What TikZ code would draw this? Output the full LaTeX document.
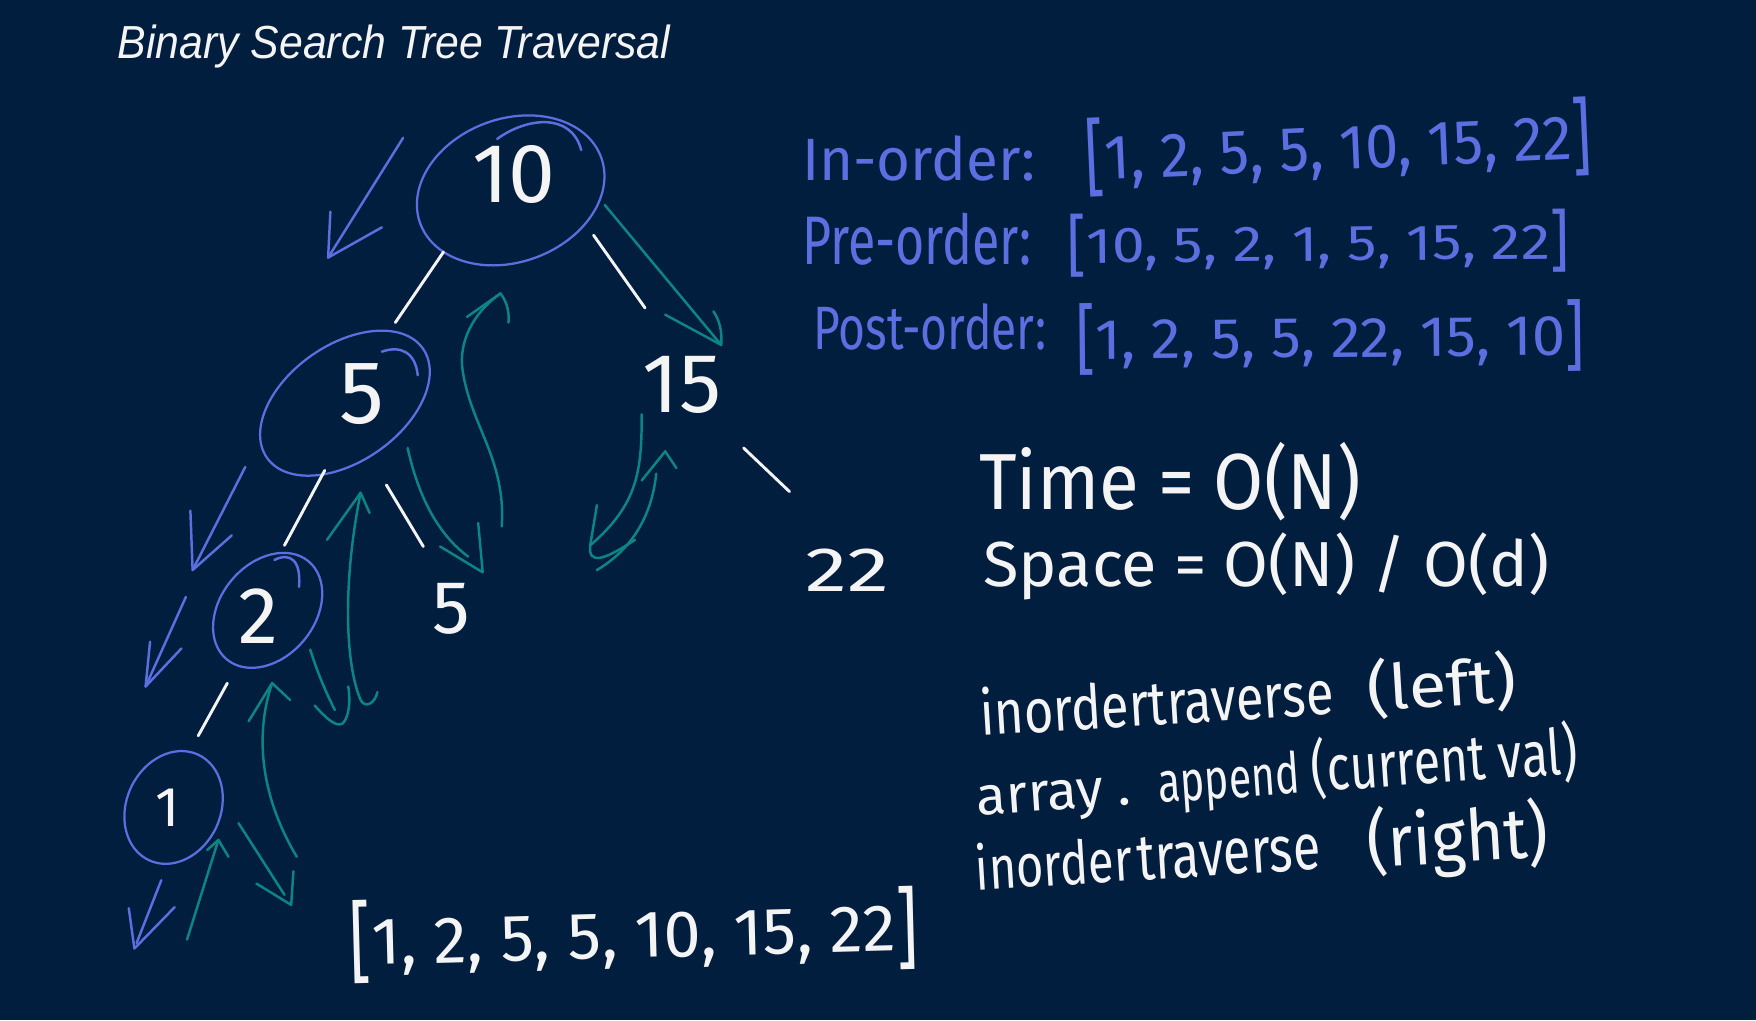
\documentclass[tikz,border=0pt]{standalone}
\usepackage{fontspec}
\usepackage{graphicx}
\usetikzlibrary{shapes.geometric,calc}
\newfontfamily\handf{Fira Sans}
\newfontfamily\titlef{Liberation Sans}
\definecolor{bg}{HTML}{021E3E}
\definecolor{bstroke}{HTML}{5B6FE0}
\definecolor{tstroke}{HTML}{0B8585}
\definecolor{wstroke}{HTML}{F4F4F4}
\newcommand\fitbox[3]{\resizebox{#1pt}{#2pt}{#3}}
\newcommand\tallbr[1]{\raisebox{-0.12em}{\scalebox{1}[1.35]{#1}}}
\begin{document}
\begin{tikzpicture}[x=1pt,y=-1pt,
  tnode/.style={ellipse, draw=bstroke, line width=2pt, inner sep=0pt},
  lbl/.style={text=wstroke, inner sep=0pt},
  edge/.style={draw=wstroke, line width=2.6pt, line cap=round},
  bpen/.style={draw=bstroke, line width=2.2pt, line cap=round, line join=round},
  tpen/.style={draw=tstroke, line width=2.2pt, line cap=round, line join=round},
  btext/.style={text=bstroke, font=\handf, inner sep=0pt, anchor=base west},
  wtext/.style={text=wstroke, font=\handf, inner sep=0pt, anchor=base west}]
\fill[bg] (0,0) rectangle (1568,911);
\useasboundingbox (0,0) rectangle (1568,911);

% title
\node[anchor=base west, text=wstroke, inner sep=0pt, font=\titlef\itshape] (title) at (105,52) {\fitbox{493}{30}{Binary Search Tree Traversal}};

% tree nodes
\node[tnode, minimum width=172pt, minimum height=128pt, rotate=20] (n10) at (456,170) {};
\node[tnode, minimum width=170pt, minimum height=104pt, rotate=35] (n5) at (308,360) {};
\node[tnode, minimum width=114pt, minimum height=84pt, rotate=50] (n2) at (239,545) {};
\node[tnode, minimum width=104pt, minimum height=84pt, rotate=65] (n1) at (155,721) {};

\node[lbl, font=\handf\fontsize{75}{80}\selectfont] (t10) at (459,156) {10};
\node[lbl, font=\handf\fontsize{80}{84}\selectfont] (t5) at (323,352) {5};
\node[lbl, font=\handf\fontsize{72}{76}\selectfont] (t2) at (231,550) {2};
\node[lbl, font=\handf\fontsize{50}{54}\selectfont] (t1) at (150,721) {1};
\node[lbl, font=\handf\fontsize{75}{80}\selectfont] (t15) at (609,344) {15};
\node[lbl, font=\handf\fontsize{67}{70}\selectfont] (t5r) at (403,544) {5};
\node[lbl, font=\handf] (t22) at (757,509) {\fitbox{75}{38}{22}};

% pen-start curls on the circles
\draw[bpen] ($(n10)+(-12,-46)$) .. controls ($(n10)+(14,-65)$) and ($(n10)+(54,-70)$) .. ($(n10)+(63,-36)$);
\draw[bpen] ($(n5)+(33,-46)$) .. controls ($(n5)+(50,-52)$) and ($(n5)+(63,-45)$) .. ($(n5)+(65,-25)$);
\draw[bpen] ($(n2)+(6,-45)$) .. controls ($(n2)+(20,-52)$) and ($(n2)+(30,-45)$) .. ($(n2)+(28,-21)$);

% tree edges
\draw[edge] ($(n10)+(-60,55)$) -- ($(n5)+(45,-72)$);
\draw[edge] ($(n10)+(74,40)$) -- ($(t15)+(-33,-69)$);
\draw[edge] ($(n5)+(-18,60)$) -- ($(n2)+(15,-58)$);
\draw[edge] ($(n5)+(37,73)$) -- ($(t5r)+(-25,-56)$);
\draw[edge] ($(n2)+(-36,65)$) -- ($(n1)+(22,-64)$);
\draw[edge] ($(t15)+(55,56)$) -- ($(t22)+(-52,-70)$);

% blue (going down-left) strokes
\draw[bpen] (360,123) -- (293,230);
\draw[bpen] (295,189) -- (293,230) -- (341,203);
\draw[bpen] (219,417) -- (172,509);
\draw[bpen] (170,456) -- (172,509) -- (207,478);
\draw[bpen] (166,533) -- (130,613);
\draw[bpen] (134,573) -- (130,613) -- (162,579);
\draw[bpen] (144,786) -- (122,842);
\draw[bpen] (115,811) -- (120,847) -- (156,810);

% teal strokes
\draw[tpen] (540,183) -- (644,308);
\draw[tpen] (594,281) -- (644,308) .. controls (645,295) and (642,285) .. (637,278);
\draw[tpen] (448,470) .. controls (452,410) and (420,380) .. (413,330) .. controls (409,300) and (428,275) .. (447,262);
\draw[tpen] (417,283) -- (447,262) .. controls (453,270) and (455,280) .. (454,288);
\draw[tpen] (364,400) .. controls (375,450) and (395,480) .. (418,497);
\draw[tpen] (393,488) -- (431,511) -- (427,467);
\draw[tpen] (573,370) .. controls (573,420) and (570,450) .. (527,487);
\draw[tpen] (533,451) -- (527,487) .. controls (525,505) and (540,500) .. (567,482);
\draw[tpen] (533,509) .. controls (565,490) and (582,460) .. (586,423);
\draw[tpen] (573,429) -- (594,403) -- (604,418);
\draw[tpen] (322,440) .. controls (306,520) and (308,592) .. (322,625) .. controls (326,633) and (335,628) .. (337,618);
\draw[tpen] (292,482) -- (322,440) -- (330,458);
\draw[tpen] (277,580) .. controls (285,605) and (292,620) .. (299,634);
\draw[tpen] (281,630) .. controls (290,640) and (300,650) .. (306,646) .. controls (312,640) and (313,625) .. (311,613);
\draw[tpen] (265,765) .. controls (235,715) and (226,660) .. (243,610);
\draw[tpen] (222,644) -- (243,610) -- (259,625);
\draw[tpen] (213,735) -- (254,799);
\draw[tpen] (229,789) -- (260,808) -- (262,778);
\draw[tpen] (167,839) -- (195,750);
\draw[tpen] (185,759) -- (195,750) -- (204,765);

% traversal lists (blue)
\node[btext] (inlab) at (716,161) {\fitbox{208}{40}{In-order:}};
\node[btext, rotate=2.5] (inlist) at (970,161) {\fitbox{452}{55}{\tallbr{[}1, 2, 5, 5, 10, 15, 22\tallbr{]}}};
\node[btext] (prelab) at (716,236) {\fitbox{205}{46}{Pre-order:}};
\node[btext, rotate=0.5] (prelist) at (953,235) {\fitbox{448}{44}{\tallbr{[}10, 5, 2, 1, 5, 15, 22\tallbr{]}}};
\node[btext] (postlab) at (726,312) {\fitbox{208}{41}{Post-order:}};
\node[btext, rotate=0.5] (postlist) at (961,321) {\fitbox{454}{50}{\tallbr{[}1, 2, 5, 5, 22, 15, 10\tallbr{]}}};

% complexity (white)
\node[wtext] (time) at (874,455) {\fitbox{341}{60}{Time = O(N)}};
\node[wtext] (space) at (878,524) {\fitbox{505}{48}{Space = O(N) / O(d)}};

% code lines (white), word groups along a rising baseline
\node[wtext, rotate=3.5] (c1a) at (876,657) {\fitbox{316}{43}{inordertraverse}};
\node[wtext, rotate=3.5] (c1b) at (1222,635) {\fitbox{133}{47}{(left)}};
\node[wtext, rotate=4] (c2a) at (873,728) {\fitbox{138}{26}{array .}};
\node[wtext, rotate=4] (c2b) at (1035,717) {\fitbox{127}{38}{append}};
\node[wtext, rotate=4] (c2c) at (1172,707) {\fitbox{238}{48}{(current val)}};
\node[wtext, rotate=3.5] (c3a) at (872,795) {\fitbox{140}{42}{inorder}};
\node[wtext, rotate=3.5] (c3b) at (1016,786) {\fitbox{164}{38}{traverse}};
\node[wtext, rotate=3.5] (c3c) at (1222,775) {\fitbox{162}{54}{(right)}};

% result list (white)
\node[wtext, rotate=1.5] (result) at (313,862) {\fitbox{507}{58}{\tallbr{[}1, 2, 5, 5, 10, 15, 22\tallbr{]}}};
\end{tikzpicture}
\end{document}
